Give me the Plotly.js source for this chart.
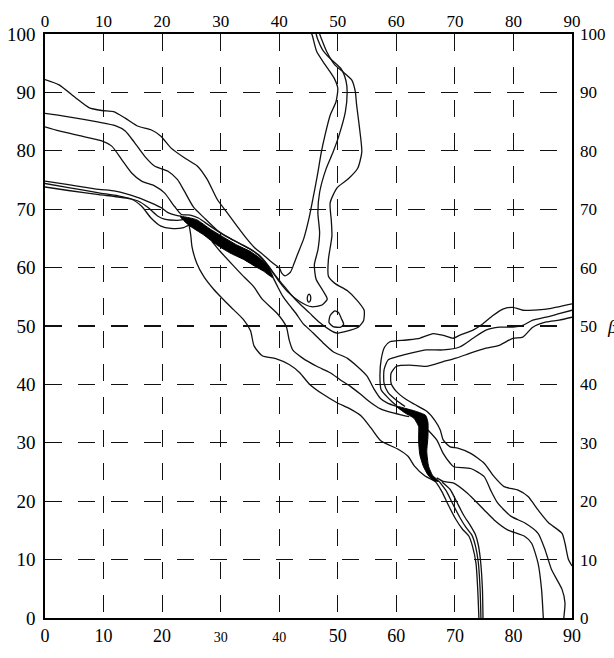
<!DOCTYPE html>
<html>
<head>
<meta charset="utf-8">
<script src="https://cdn.plot.ly/plotly-3.0.1.min.js"></script>
<style>html,body{margin:0;padding:0;background:#fff;}#chart{width:614px;height:658px;}</style>
</head>
<body>
<div id="chart"></div>
<script>
// ---- tick values / labels ----
const xTicks = [0,10,20,30,40,50,60,70,80,90];
const yTicks = [0,10,20,30,40,50,60,70,80,90,100];
const xTickTextBottom = ['0','10','20','<span style="font-size:14px">30</span>','<span style="font-size:14px">40</span>','50','60','70','80','90'];
const xTickTextTop = ['0','10','20','30','40','50','60','70','80','90'];
const yTickText = ['0','10','20','30','40','50','60','70','80','90','100'];
const xLabel = 'α';
const yLabel = 'β';

// ---- contour lines (alpha, beta) ----
const u1X = [0,2.4,5.2,7.5,9.7,11.7,13.7,15.9,18.1,19.8,21.5,23.8,26,27.7,29.4,31.1,32.8,34.4,35.8,37.5,39,40.1,40.4,41,41.9,42.5,43.1,44.2,45.1,45.7,46.5,47.2,47.8,48.7,49.7,50,49.4,47.8,46.4,45.6,45.5];
const u1Y = [92.2,91.3,89.1,87.4,86.9,86.7,85.6,84.2,83.6,82.5,80.5,78.8,77.4,75.1,71.7,69.4,67.1,65,63.4,62,60.7,59.8,59.1,58.6,59.2,60.6,62.2,65,68.5,71.5,75.7,79.8,82.6,86.1,88.4,90.7,92.4,94.8,97,99.9,100];

const u2X = [0,3.5,9.2,12,13.7,15.3,17,18.7,21,22.6,23.8,25.4,27.1,29.4,31.6,33.9,35.6,37.3,38.8,40,41.5,43.5,45.5,47.3,48.2,47.5,46.3,46,46.6,46.9,46.6,46.9,48,49.2,50.2,51.3,51.6,51.4,50.6,48.7,47.4,46.6,46.3];
const u2Y = [86.4,85.9,84.9,84.3,83.4,81.4,79.1,77.4,76.5,75.1,73.1,70.3,68.6,66.4,65,63.8,62.8,61.3,59.3,57.6,55.8,54.2,53.3,53.6,54.6,56,58,60.5,63,66,69.4,72.9,76.9,79.8,82.6,86.7,90.1,92,94,95.8,97.3,99,100];

const u3X = [0,2.4,6.3,9.7,11.4,13.1,14.8,16.5,18.7,20.4,22.1,23.3,24.8,26.2,28.2,30.5,32.7,35,36.6,38,39.3,40.6,42,43.5,45.2,46.9,48.7,49.8,51.4,53.5,54.4,54.5,53.3,51.7,49.5,48.4,48.4,49,48.9,48.7,49.9,51.8,53.4,54.1,53.7,53.2,53,52.4,50.9,49.5,48.1,47.2,46.9];
const u3Y = [84.1,83.4,82.5,81.7,80.8,78.5,76.2,74.8,74,72.8,70.5,69.1,69,68.5,67.1,65.6,64.4,63.2,62.1,60.5,58.7,57.1,55.4,53.8,52.2,50.6,49.3,48.8,49.1,49.8,50.9,52.7,54.4,56,57.3,58.5,61.4,65.4,68,71.1,73.7,75.2,77,79.8,84,88,90.1,92.1,93.5,94.7,97,99.2,100];

const l4X = [0,4,9.2,12,15.9,18.1,19.8,21,22.6,23.3];
const l4Y = [74.8,74.2,73.4,73.1,72,71.1,70.3,69.4,68.9,68.8];
const l5X = [0,4,9.2,12.5,15.9,17.6,19.3,20.4,22.6,23.6];
const l5Y = [74.4,73.7,72.8,72.3,71.4,70.3,68.8,68.3,68.1,68.2];
const l6X = [0,4,9.2,14.8,16.5,18.1,19.8,21.5,23.5,24.6];
const l6Y = [73.8,73.2,72.5,71.7,70.5,68.5,67.1,66.7,66.8,67.3];

const d1X = [24.6,24.9,25.1,25.9,27.1,28.8,30.5,32.2,33.9,35.1,35.7,37.1,39.4,41.7,43.5,45.2,47.5,49.8,52.1,54,55.7,57.4,60.3,62,63.1,64.9,66.6,67.8,68.9,70.1,71.3,72.4,73,73.6,73.9,74.1];
const d1Y = [67.3,65.5,63.6,60.8,58.5,56.3,54.5,52.8,51.1,49.2,46.6,44.9,44.4,43.4,42,40,38.3,36.9,35.8,34.6,32.5,30.3,28.9,27.7,26,24.3,23.4,21.6,19.3,17,15.2,14,12.3,9.4,4.9,0];

const d2X = [28.5,29.9,32.2,33.9,35.6,37.1,39.7,41.2,41.7,42.3,44,46.4,48.7,50.4,52.1,53.9,55.6,57.3,59.1,60.8,62.2];
const d2Y = [64.5,62.8,60.3,58.5,56.8,54.6,52.1,49.9,47.6,45.9,44.5,43.1,42,40.8,39.7,38.3,36.9,35.8,35.2,34.8,34.5];

const d3X = [39,39.8,40.6,41.7,42.9,44,45.8,47.5,49.2,51.6,53.3,55,56.2,57.3,58.5,59.9];
const d3Y = [58.2,56.6,55.1,53.6,52.1,50.5,48.8,47.1,45.6,44.5,43.1,41.4,39.2,37.6,36.8,36.3];

const rm1X = [90,85.6,81.6,79.9,78.2,76.5,74.8,73.1,70.8,69.7,68,66.3,64,61.7,58.9,58,57.4,57.2,57.4,58.3,59.3,60];
const rm1Y = [53.8,52.9,52.7,53.2,52.9,51.8,50.4,49.3,48.4,47.9,48.4,48.7,47.9,47.6,47.3,46.4,44.2,41.4,39.1,38,37,36.4];
const rm2X = [90,87.8,85.6,83.3,81.6,79.9,77.6,75.3,73.1,70.8,68,65.1,62.3,60,58.6,57.9,57.9,58.6,60,61.5];
const rm2Y = [52.7,52.1,51.5,51,50.1,49.8,49.8,49.3,47.9,46.4,45.9,45.9,45.3,44.7,44.2,42.5,40.2,38.6,37.3,36.2];
const rm3X = [90,87.8,85.6,83.3,81.6,79.9,77.6,75.3,72.5,70.2,68,65.1,62.3,60,59.1,59.1,60,61.7,63.1,65.2,66.6,67.5,68,69.2,70.5,72.7,75,76.7,78.4,80.8,82.5,84.2,86,88.3,88.8,89.4,90];
const rm3Y = [51.5,51,50.7,49.8,48.1,47.9,46.7,46.2,45.3,44.5,43.9,43.1,43.3,43.1,41.9,40.2,38.8,37.4,36.6,35.4,33.8,32.2,30.5,29.3,29.1,28.2,26.5,24.2,22.5,21.9,20.8,18.5,16.3,14.5,12.8,10,8.9];

const hX = [65.4,66.9,68,69.2,69.8,72.7,75,76.1,77.3,79.6,81.9,84.2,85.4,86.5,88.3,88.8,88.6];
const hY = [32.2,30.5,28.2,26.5,25.9,25.6,24.2,21.9,19.7,17.4,16.3,14.5,11.7,8.3,4.9,2.6,0];
const kX = [66.9,68,69.8,72.1,75,76.7,79,81.9,83.1,84.2,84.8,85.1];
const kY = [24,23.4,23.1,21.4,18.5,16.8,15.1,14,12.8,9.4,4.9,0];

const g2X = [67.3,68.5,69.6,70.8,71.9,72.9,73.5,74,74.3,74.45];
const g2Y = [23.4,21.8,19.6,17.3,15.5,14.2,12.4,9.5,5,0];
const g3X = [67.8,69.2,70.3,71.5,72.6,73.5,74,74.4,74.7,74.8];
const g3Y = [23.3,22,19.9,17.6,15.9,14.3,12.5,9.6,5,0];

const oX = [45.0,44.8,44.85,45.1,45.35,45.35,45.2,45.0];
const oY = [55.4,54.9,54.3,54.1,54.4,55.1,55.4,55.4];
const dLoopX = [49.5,48.7,48.5,49.2,50.5,51.0,50.6,50.2,49.5];
const dLoopY = [52.6,51.8,50.6,49.9,49.8,50.3,51.3,52.2,52.6];

// ---- filled minima ----
const black1X = [23.1,25.9,28.2,30.5,32.7,35,36.7,38.1,39,37.3,35.9,33.9,31.6,29.3,27.1,24.5,23.1];
const black1Y = [68.75,68.2,66.6,65.2,63.9,62.8,61.6,60.2,58.2,59.4,60.2,61.4,62.5,63.9,65.6,67.3,68.75];
const black2X = [59.9,61.5,63.3,65,65.4,65.4,65.2,65.5,66.2,67.3,66.4,65.4,64.6,64,63.8,63.8,63,61.5,59.9];
const black2Y = [36.3,35.9,35.4,34.7,33.5,31,28.5,26,24.4,23.4,23.5,24.5,26,28,30.5,32.8,34.2,35.1,36.3];

const lines = [[u1X,u1Y],[u2X,u2Y],[u3X,u3Y],[l4X,l4Y],[l5X,l5Y],[l6X,l6Y],[d1X,d1Y],[d2X,d2Y],[d3X,d3Y],
  [rm1X,rm1Y],[rm2X,rm2Y],[rm3X,rm3Y],[hX,hY],[kX,kY],[g2X,g2Y],[g3X,g3Y],[oX,oY],[dLoopX,dLoopY]];
const fills = [[black1X,black1Y],[black2X,black2Y]];

const ink = '#111';
const traces = [];
lines.forEach(function(p){
  traces.push({type:'scatter', mode:'lines', x:p[0], y:p[1], line:{color:ink, width:1.3, shape:'spline', smoothing:0.6}, hoverinfo:'skip', showlegend:false});
});
fills.forEach(function(p){
  traces.push({type:'scatter', mode:'lines', x:p[0], y:p[1], fill:'toself', fillcolor:'#000', line:{color:'#000', width:1, shape:'spline', smoothing:0.5}, hoverinfo:'skip', showlegend:false});
});
// invisible anchor for the mirrored top/right axes
traces.push({type:'scatter', mode:'markers', x:[xTicks[0]], y:[yTicks[0]], xaxis:'x2', yaxis:'y2', marker:{opacity:0}, hoverinfo:'skip', showlegend:false});

const fam = 'Liberation Serif, Times New Roman, serif';
const fLeft = {family:fam, size:19, color:'#000'};
const fBottom = {family:fam, size:18, color:'#000'};
const fTop = {family:fam, size:17, color:'#000'};
const fRight = {family:fam, size:17, color:'#000'};
const gridCommon = {showgrid:true, gridcolor:ink, gridwidth:1.2, griddash:'17px,16px', zeroline:false,
  showline:true, linecolor:'#000', linewidth:1.6, ticks:''};

const layout = {
  width:614, height:658,
  margin:{l:45, r:42, t:34, b:40, pad:0},
  paper_bgcolor:'#fff', plot_bgcolor:'#fff',
  showlegend:false,
  xaxis: Object.assign({}, gridCommon, {range:[0,90], tickmode:'array', tickvals:xTicks, ticktext:xTickTextBottom, tickfont:fBottom, ticklabelstandoff:1}),
  yaxis: Object.assign({}, gridCommon, {range:[0,100], tickmode:'array', tickvals:yTicks, ticktext:yTickText, tickfont:fLeft, ticklabelstandoff:4}),
  xaxis2: {overlaying:'x', side:'top', range:[0,90], tickmode:'array', tickvals:xTicks, ticktext:xTickTextTop,
    showgrid:false, zeroline:false, showline:true, linecolor:'#000', linewidth:1.6, ticks:'', tickfont:fTop, ticklabelstandoff:-1},
  yaxis2: {overlaying:'y', side:'right', range:[0,100], tickmode:'array', tickvals:yTicks, ticktext:yTickText,
    showgrid:false, zeroline:false, showline:true, linecolor:'#000', linewidth:1.6, ticks:'', tickfont:fRight, ticklabelstandoff:3},
  annotations:[
    {text:'<i>'+xLabel+'</i>', xref:'x', yref:'paper', x:44.9, y:-0.0514, xanchor:'center', yanchor:'top', showarrow:false, font:fLeft},
    {text:'<i>'+yLabel+'</i>', xref:'paper', yref:'y', x:1.0626, y:50, xanchor:'left', yanchor:'middle', showarrow:false, font:fLeft}
  ]
};

Plotly.newPlot('chart', traces, layout, {staticPlot:true, displayModeBar:false});
</script>
</body>
</html>
